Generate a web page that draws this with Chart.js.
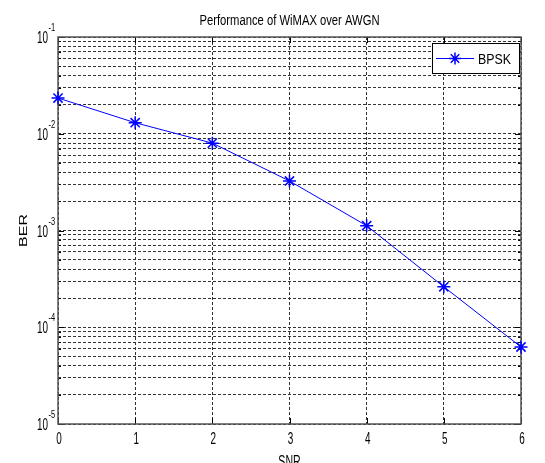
<!DOCTYPE html>
<html>
<head>
<meta charset="utf-8">
<script src="https://cdn.jsdelivr.net/npm/chart.js@4.4.0/dist/chart.umd.min.js"></script>
<style>
  html, body { margin: 0; padding: 0; background: #fff; }
</style>
</head>
<body>
<canvas id="chart" width="545" height="463"></canvas>
<script>
const snr = [0, 1, 2, 3, 4, 5, 6];
const berBpsk = [0.0234, 0.0130, 0.0080, 0.00325, 0.00112, 0.000262, 0.0000625];
const xTicks = [0, 1, 2, 3, 4, 5, 6];
const yDecades = [-5, -4, -3, -2, -1];
const yMinorSteps = [2, 3, 4, 5, 6, 7, 8, 9];
const titleText = 'Performance of WiMAX over AWGN';
const xTitle = 'SNR';
const yTitle = 'BER';
const seriesName = 'BPSK';

const FONT = '"Liberation Sans", Arial, sans-serif';
const BLUE = '#0000ff';

// all log grid values: 1..9 x 10^e, plus the top decade
const yTickValues = [];
yDecades.forEach((e, i) => {
    yTickValues.push(Number('1e' + e));
    if (i < yDecades.length - 1) yMinorSteps.forEach(m => yTickValues.push(Number(m + 'e' + e)));
});

function squishText(ctx, text, x, y, size, align, sx) {
    ctx.save();
    ctx.font = size + 'px ' + FONT;
    ctx.translate(x, y);
    ctx.scale(sx, 1);
    ctx.textAlign = align;
    ctx.textBaseline = 'alphabetic';
    ctx.fillStyle = '#000';
    ctx.fillText(text, 0, 0);
    ctx.restore();
}

function drawStar(ctx, x, y, r) {
    const d = r * Math.SQRT1_2;
    ctx.beginPath();
    ctx.moveTo(x - r, y); ctx.lineTo(x + r, y);
    ctx.moveTo(x, y - r); ctx.lineTo(x, y + r);
    ctx.moveTo(x - d, y - d); ctx.lineTo(x + d, y + d);
    ctx.moveTo(x - d, y + d); ctx.lineTo(x + d, y - d);
    ctx.stroke();
}

const matlabAxes = {
    id: 'matlabAxes',
    beforeDatasetsDraw(chart) {
        const ctx = chart.ctx;
        const a = chart.chartArea;
        const xs = chart.scales.x, ys = chart.scales.y;
        ctx.save();
        ctx.strokeStyle = '#000';
        ctx.lineWidth = 1;
        // tick marks inside the box
        yTickValues.forEach(v => {
            const py = Math.round(ys.getPixelForValue(v)) + 0.5;
            const len = Math.abs(Math.log10(v) - Math.round(Math.log10(v))) < 1e-9 ? 6 : 3;
            ctx.beginPath();
            ctx.moveTo(a.left, py); ctx.lineTo(a.left + len, py);
            ctx.moveTo(a.right, py); ctx.lineTo(a.right - len, py);
            ctx.stroke();
        });
        xTicks.forEach(v => {
            const px = Math.round(xs.getPixelForValue(v)) + 0.5;
            ctx.beginPath();
            ctx.moveTo(px, a.bottom); ctx.lineTo(px, a.bottom - 6);
            ctx.moveTo(px, a.top); ctx.lineTo(px, a.top + 6);
            ctx.stroke();
        });
        // axes box
        ctx.strokeStyle = '#555';
        ctx.lineWidth = 1.5;
        ctx.strokeRect(a.left, a.top, a.right - a.left, a.bottom - a.top);
        ctx.restore();
    },
    afterDraw(chart) {
        const ctx = chart.ctx;
        const a = chart.chartArea;
        const xs = chart.scales.x, ys = chart.scales.y;

        // title
        ctx.save();
        ctx.font = '14px ' + FONT;
        const tw = ctx.measureText(titleText).width;
        ctx.restore();
        squishText(ctx, titleText, (a.left + a.right) / 2, 25, 14, 'center', 180 / tw);

        // x tick labels
        xTicks.forEach(v => {
            squishText(ctx, String(v), xs.getPixelForValue(v) + 1, 444, 16, 'center', 0.62);
        });

        // y tick labels 10^e
        yDecades.forEach(e => {
            const py = ys.getPixelForValue(Number('1e' + e));
            squishText(ctx, '10', 48, py + 6, 16, 'right', 0.62);
            squishText(ctx, String(e), 48.5, py - 6, 10, 'left', 0.75);
        });

        // axis titles
        squishText(ctx, xTitle, (a.left + a.right) / 2, 467, 16, 'center', 0.66);
        ctx.save();
        ctx.translate(27, (a.top + a.bottom) / 2);
        ctx.rotate(-Math.PI / 2);
        ctx.font = '16px ' + FONT;
        ctx.textAlign = 'center';
        ctx.fillStyle = '#000';
        ctx.scale(1, 0.68);
        ctx.fillText(yTitle, 0, 0);
        ctx.restore();

        // legend
        ctx.save();
        ctx.fillStyle = '#fff';
        ctx.fillRect(432, 43, 87, 30);
        ctx.strokeStyle = '#000';
        ctx.lineWidth = 1;
        ctx.strokeRect(432.5, 43.5, 87, 30);
        ctx.strokeStyle = BLUE;
        ctx.beginPath();
        ctx.moveTo(436, 58.5); ctx.lineTo(474, 58.5);
        ctx.stroke();
        ctx.lineWidth = 1.5;
        drawStar(ctx, 455, 58.5, 6);
        ctx.restore();
        ctx.save();
        ctx.font = '15px ' + FONT;
        const lw = ctx.measureText(seriesName).width;
        ctx.restore();
        squishText(ctx, seriesName, 478, 64, 15, 'left', 33 / lw);
    }
};

new Chart(document.getElementById('chart'), {
    type: 'line',
    data: {
        datasets: [{
            label: seriesName,
            data: snr.map((s, i) => ({ x: s, y: berBpsk[i] })),
            borderColor: BLUE,
            backgroundColor: BLUE,
            borderWidth: 1,
            pointStyle: 'star',
            pointRadius: 6.5,
            pointBorderWidth: 1.5,
            pointBorderColor: BLUE,
            tension: 0,
            clip: false
        }]
    },
    options: {
        responsive: false,
        devicePixelRatio: 1,
        animation: false,
        layout: { padding: { top: 37, right: 24, left: 0, bottom: 0 } },
        plugins: { legend: { display: false }, title: { display: false }, tooltip: { enabled: false } },
        scales: {
            x: {
                type: 'linear',
                min: 0,
                max: 6,
                afterBuildTicks: s => { s.ticks = xTicks.map(v => ({ value: v })); },
                afterFit: s => { s.height = 39; },
                ticks: { display: false },
                grid: { color: '#333', lineWidth: 1, drawTicks: false },
                border: { display: false, dash: [3, 2] }
            },
            y: {
                type: 'logarithmic',
                min: 1e-5,
                max: 1e-1,
                afterBuildTicks: s => { s.ticks = yTickValues.map(v => ({ value: v })); },
                afterFit: s => { s.width = 58; },
                ticks: { display: false },
                grid: { color: '#333', lineWidth: 1, drawTicks: false },
                border: { display: false, dash: [3, 2] }
            }
        }
    },
    plugins: [matlabAxes]
});
</script>
</body>
</html>
